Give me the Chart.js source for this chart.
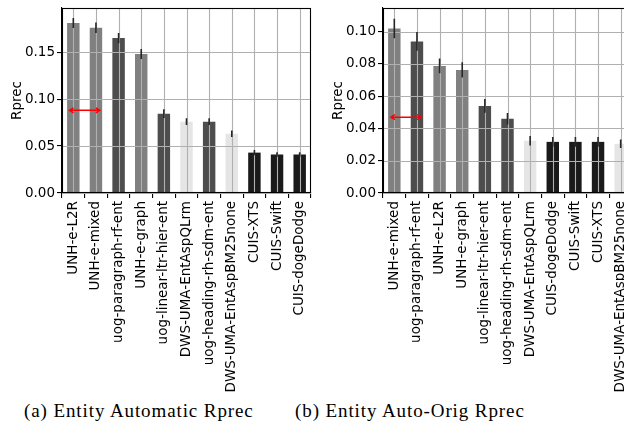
<!DOCTYPE html>
<html>
<head>
<meta charset="UTF-8">
<title>Entity Rprec</title>
<script src="https://cdn.jsdelivr.net/npm/chart.js@4.4.0/dist/chart.umd.min.js"></script>
<style>
  html, body {margin: 0; padding: 0; background: #fff; overflow: hidden; width: 624px; height: 433px;}
  #wrap {position: relative; width: 624px; height: 433px; overflow: hidden;}
  #chartA {position: absolute; left: 0px; top: 0px;}
  #chartB {position: absolute; left: 321px; top: 0px;}
  .cap {position: absolute; top: 400px; font-family: "Liberation Serif", serif; font-size: 19px; letter-spacing: 0.9px; white-space: nowrap; color: #000;}
  #capA {left: 24px;}
  #capB {left: 295px;}
</style>
</head>
<body>
<div id="wrap">
  <canvas id="chartA" width="312" height="395"></canvas>
  <canvas id="chartB" width="313" height="395"></canvas>
  <div class="cap" id="capA">(a) Entity Automatic Rprec</div>
  <div class="cap" id="capB">(b) Entity Auto-Orig Rprec</div>
</div>
<script>
// (a) Entity Automatic
var labelsA = ['UNH-e-L2R', 'UNH-e-mixed', 'uog-paragraph-rf-ent', 'UNH-e-graph', 'uog-linear-ltr-hier-ent',
  'DWS-UMA-EntAspQLrm', 'uog-heading-rh-sdm-ent', 'DWS-UMA-EntAspBM25none', 'CUIS-XTS', 'CUIS-Swift', 'CUIS-dogeDodge'];
var valuesA = [0.181, 0.176, 0.165, 0.148, 0.0845, 0.076, 0.076, 0.063, 0.043, 0.041, 0.041];
var errA = [0.0053, 0.0055, 0.0055, 0.0053, 0.0046, 0.0037, 0.0037, 0.0035, 0.0028, 0.0025, 0.0025];
var ticksA = [0, 0.05, 0.10, 0.15];

// (b) Entity Auto-Orig
var labelsB = ['UNH-e-mixed', 'uog-paragraph-rf-ent', 'UNH-e-L2R', 'UNH-e-graph', 'uog-linear-ltr-hier-ent',
  'uog-heading-rh-sdm-ent', 'DWS-UMA-EntAspQLrm', 'CUIS-dogeDodge', 'CUIS-Swift', 'CUIS-XTS', 'DWS-UMA-EntAspBM25none'];
var valuesB = [0.102, 0.094, 0.0788, 0.0763, 0.054, 0.046, 0.0324, 0.0317, 0.0317, 0.0317, 0.0305];
var errB = [0.006, 0.0058, 0.0046, 0.0047, 0.0043, 0.0036, 0.0029, 0.003, 0.003, 0.003, 0.0026];
var ticksB = [0, 0.02, 0.04, 0.06, 0.08, 0.10];

// red <-> arrows (category index from/to, value)
var arrowA = [-0.17, 1.17, 0.088];
var arrowB = [-0.15, 1.18, 0.047];

// team colours
var teamColor = {UNH: '#808080', uog: '#4d4d4d', DWS: '#e5e5e5', CUIS: '#1a1a1a'};
function colorsFor(labels) {
  return labels.map(function (l) { return teamColor[l.split('-')[0]]; });
}

var sans = '"DejaVu Sans", sans-serif';

// grid over the bars, error bars, frame and arrow
var overlay = {
  id: 'overlay',
  afterDatasetsDraw: function (chart, args, opts) {
    var ctx = chart.ctx, a = chart.chartArea;
    var x = chart.scales.x, y = chart.scales.y;
    ctx.save();
    ctx.strokeStyle = '#b0b0b0';
    ctx.lineWidth = 1.1;
    ctx.beginPath();
    for (var i = 0; i < x.ticks.length; i++) {
      var px = Math.round(x.getPixelForTick(i)) + 0.5;
      ctx.moveTo(px, a.top); ctx.lineTo(px, a.bottom);
    }
    for (var j = 0; j < y.ticks.length; j++) {
      var py = Math.round(y.getPixelForTick(j)) + 0.5;
      ctx.moveTo(a.left, py); ctx.lineTo(a.right, py);
    }
    ctx.stroke();

    var meta = chart.getDatasetMeta(0);
    var vals = chart.data.datasets[0].data;
    ctx.strokeStyle = '#262626';
    ctx.lineWidth = 1.6;
    ctx.beginPath();
    meta.data.forEach(function (bar, k) {
      ctx.moveTo(bar.x, y.getPixelForValue(vals[k] + opts.err[k]));
      ctx.lineTo(bar.x, y.getPixelForValue(vals[k] - opts.err[k]));
    });
    ctx.stroke();

    ctx.strokeStyle = '#000';
    ctx.lineWidth = 1.1;
    ctx.strokeRect(a.left + 0.5, a.top + 0.5, a.width - 1, a.height - 1);

    var x0 = x.getPixelForValue(opts.arrow[0]), x1 = x.getPixelForValue(opts.arrow[1]);
    var ya = y.getPixelForValue(opts.arrow[2]);
    ctx.strokeStyle = '#ff0000';
    ctx.lineWidth = 1.5;
    ctx.beginPath();
    ctx.moveTo(x0, ya); ctx.lineTo(x1, ya);
    ctx.moveTo(x0 + 4, ya - 2.5); ctx.lineTo(x0, ya); ctx.lineTo(x0 + 4, ya + 2.5);
    ctx.moveTo(x1 - 4, ya - 2.5); ctx.lineTo(x1, ya); ctx.lineTo(x1 - 4, ya + 2.5);
    ctx.stroke();
    ctx.restore();
  }
};

function makeChart(id, labels, values, err, ticks, ymax, arrow, padRight) {
  return new Chart(document.getElementById(id), {
    type: 'bar',
    data: {
      labels: labels,
      datasets: [{
        data: values,
        backgroundColor: colorsFor(labels),
        borderWidth: 0,
        barPercentage: 0.55,
        categoryPercentage: 1.0
      }]
    },
    options: {
      responsive: false,
      devicePixelRatio: 1,
      animation: false,
      layout: {padding: {top: 8, right: padRight, left: 0, bottom: 0}},
      plugins: {
        legend: {display: false},
        tooltip: {enabled: false},
        overlay: {err: err, arrow: arrow}
      },
      scales: {
        x: {
          offset: true,
          grid: {drawOnChartArea: false, drawTicks: true, tickLength: 5, tickColor: '#000', lineWidth: 1.1},
          border: {color: '#000', width: 1.1},
          ticks: {
            autoSkip: false, maxRotation: 90, minRotation: 90, padding: 3,
            color: '#000', font: {family: sans, size: 13.5}
          },
          afterFit: function (s) { s.height = 202; s.paddingLeft = 0; s.paddingRight = 0; }
        },
        y: {
          min: 0,
          max: ymax,
          afterBuildTicks: function (s) { s.ticks = ticks.map(function (v) { return {value: v}; }); },
          grid: {drawOnChartArea: false, drawTicks: true, tickLength: 5, tickColor: '#000', lineWidth: 1.1},
          border: {color: '#000', width: 1.1},
          ticks: {
            padding: 2, color: '#000', font: {family: sans, size: 13.5},
            callback: function (v) { return v.toFixed(2); }
          },
          title: {
            display: true, text: 'Rprec', color: '#000',
            font: {family: sans, size: 13.5}, padding: {top: 9, bottom: 0}
          },
          afterFit: function (s) { s.width = 62; s.paddingTop = 0; s.paddingBottom = 0; }
        }
      }
    },
    plugins: [overlay]
  });
}

makeChart('chartA', labelsA, valuesA, errA, ticksA, 0.197, arrowA, 1);
makeChart('chartB', labelsB, valuesB, errB, ticksB, 0.1147, arrowB, 2);
</script>
</body>
</html>
